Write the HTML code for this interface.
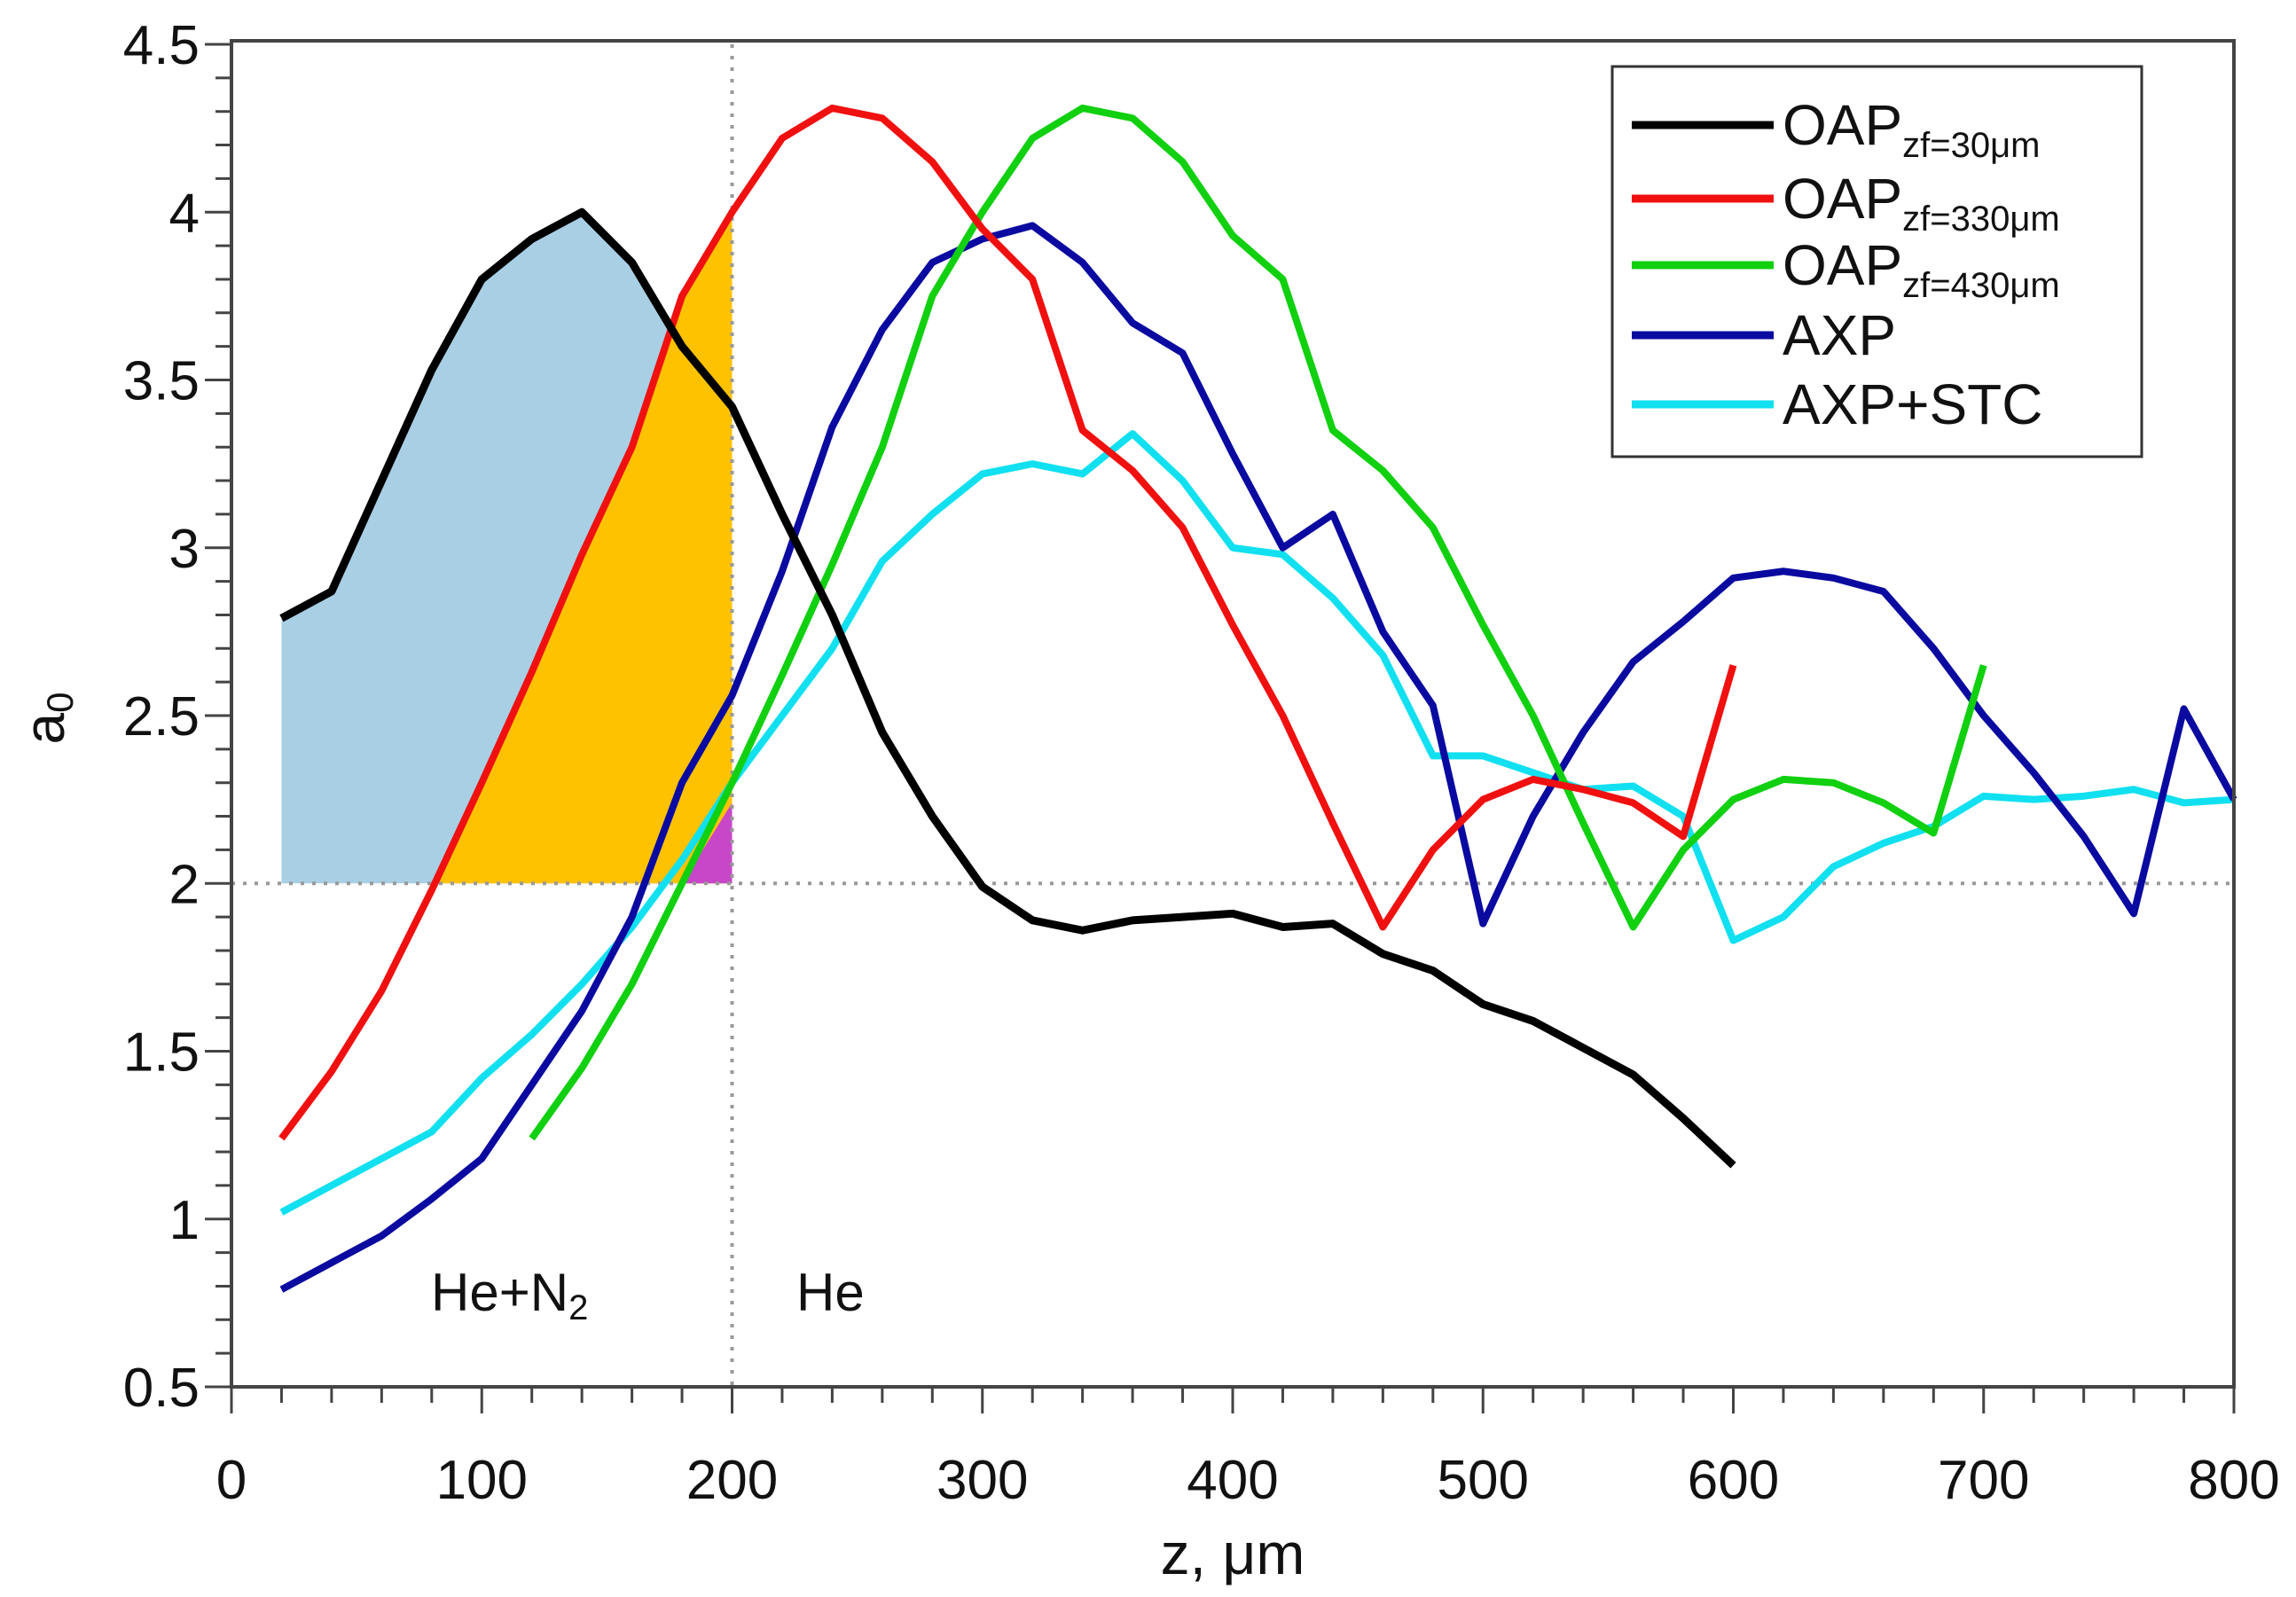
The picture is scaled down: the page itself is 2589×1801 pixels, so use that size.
<!DOCTYPE html>
<html><head><meta charset="utf-8"><style>
html,body{margin:0;padding:0;background:#fff}
svg{display:block;font-family:"Liberation Sans",Arial,sans-serif}
</style></head><body>
<svg id="chart" width="2589" height="1801" viewBox="0 0 2589 1801" xmlns="http://www.w3.org/2000/svg">
<g id="fills"></g>
<g id="guides"></g>
<g id="series"></g>
<g id="axes"></g>
<g id="legend"></g>
</svg>
<script>
const zOAP30=[20,40,60,80,100,120,140,160,180,200,220,240,260,280,300,320,340,360,380,400,420,440,460,480,500,520,540,560,580,600];
const aOAP30=[2.79,2.87,3.2,3.53,3.8,3.92,4.0,3.85,3.6,3.42,3.1,2.8,2.45,2.2,1.99,1.89,1.86,1.89,1.9,1.91,1.87,1.88,1.79,1.74,1.64,1.59,1.51,1.43,1.3,1.16];
const zOAP330=[20,40,60,80,100,120,140,160,180,200,220,240,260,280,300,320,340,360,380,400,420,440,460,480,500,520,540,560,580,600];
const aOAP330=[1.24,1.44,1.68,1.98,2.3,2.63,2.98,3.3,3.75,4.0,4.22,4.31,4.28,4.15,3.95,3.8,3.35,3.23,3.06,2.77,2.5,2.18,1.87,2.1,2.25,2.31,2.28,2.24,2.14,2.65];
const zOAP430=[120,140,160,180,200,220,240,260,280,300,320,340,360,380,400,420,440,460,480,500,520,540,560,580,600,620,640,660,680,700];
const aOAP430=[1.24,1.45,1.7,2.0,2.3,2.62,2.95,3.3,3.75,4.0,4.22,4.31,4.28,4.15,3.93,3.8,3.35,3.23,3.06,2.77,2.5,2.18,1.87,2.1,2.25,2.31,2.3,2.24,2.15,2.65];
const zAXP=[20,40,60,80,100,120,140,160,180,200,220,240,260,280,300,320,340,360,380,400,420,440,460,480,500,520,540,560,580,600,620,640,660,680,700,720,740,760,780,800];
const aAXP=[0.79,0.87,0.95,1.06,1.18,1.4,1.62,1.9,2.3,2.56,2.93,3.36,3.65,3.85,3.92,3.96,3.85,3.67,3.58,3.28,3.0,3.1,2.75,2.53,1.88,2.2,2.45,2.66,2.78,2.91,2.93,2.91,2.87,2.7,2.5,2.33,2.14,1.91,2.52,2.25];
const zSTC=[20,40,60,80,100,120,140,160,180,200,220,240,260,280,300,320,340,360,380,400,420,440,460,480,500,520,540,560,580,600,620,640,660,680,700,720,740,760,780,800];
const aSTC=[1.02,1.1,1.18,1.26,1.42,1.55,1.7,1.87,2.07,2.3,2.5,2.7,2.96,3.1,3.22,3.25,3.22,3.34,3.2,3.0,2.98,2.85,2.68,2.38,2.38,2.33,2.28,2.29,2.2,1.83,1.9,2.05,2.12,2.17,2.26,2.25,2.26,2.28,2.24,2.25];
const xTicks=[0,100,200,300,400,500,600,700,800];
const yTicks=[0.5,1,1.5,2,2.5,3,3.5,4,4.5];
const yTickLabels=["0.5","1","1.5","2","2.5","3","3.5","4","4.5"];

const NS="http://www.w3.org/2000/svg";
const X0=261,X1=2519,Y0=1564,Y1=50;
const sx=z=>X0+(z-0)/(800-0)*(X1-X0);
const sy=a=>Y0-(a-0.5)/(4.5-0.5)*(Y0-Y1);
function mk(tag,attrs,parent){const e=document.createElementNS(NS,tag);for(const k in attrs)e.setAttribute(k,attrs[k]);parent.appendChild(e);return e;}
const fills=document.getElementById('fills'),guides=document.getElementById('guides'),series=document.getElementById('series'),axes=document.getElementById('axes'),legend=document.getElementById('legend');

function areaPts(zs,as,zmin,zmax){let p=[];for(let i=0;i<zs.length;i++){if(zs[i]>=zmin&&zs[i]<=zmax)p.push(sx(zs[i])+','+sy(Math.max(as[i],2)));}
  const first=zs.find(z=>z>=zmin),lastArr=zs.filter(z=>z<=zmax),last=lastArr[lastArr.length-1];
  p.push(sx(last)+','+sy(2));p.push(sx(first)+','+sy(2));return p.join(' ');}
let el=mk('polygon',{points:areaPts(zOAP30,aOAP30,20,200),fill:'#a9cfe5'},fills);


el=mk('polygon',{points:areaPts(zOAP330,aOAP330,80,200),fill:'#ffc200'},fills);


el=mk('polygon',{points:[sx(180)+','+sy(2),sx(200)+','+sy(2.24),sx(200)+','+sy(2)].join(' '),fill:'#c846c8'},fills);



el=mk('line',{x1:X0,x2:X1,y1:sy(2),y2:sy(2),stroke:'#999',"stroke-width":4,"stroke-dasharray":"4 9"},guides);


el=mk('line',{x1:sx(200),x2:sx(200),y1:Y1,y2:Y0,stroke:'#999',"stroke-width":4,"stroke-dasharray":"4 9"},guides);



const S=[[zOAP30,aOAP30,'#000','oap-30-line'],[zOAP330,aOAP330,'#f01010','oap-330-line'],[zOAP430,aOAP430,'#10d010','oap-430-line'],[zAXP,aAXP,'#0a0aa0','axp-line'],[zSTC,aSTC,'#10e0f0','axp-stc-line']];
const order=[4,3,2,1,0];
order.forEach(i=>{const s=S[i];const pts=s[0].map((z,j)=>sx(z)+','+sy(s[1][j])).join(' ');
  const e=mk('polyline',{points:pts,fill:'none',stroke:s[2],"stroke-width":i==0?9:8,"stroke-linejoin":"round"},series);
  
  });

el=mk('rect',{x:X0,y:Y1-4,width:X1-X0,height:Y0-Y1+4,fill:'none',stroke:'#444',"stroke-width":4},axes);


for(let v=0;v<=800;v+=20){const big=v%100==0;mk('line',{x1:sx(v),x2:sx(v),y1:Y0,y2:Y0+(big?30:18),stroke:'#444',"stroke-width":3},axes);}
for(let v=0.5;v<=4.501;v+=0.1){const big=Math.abs(v*2-Math.round(v*2))<1e-6;mk('line',{x1:X0,x2:X0-(big?30:18),y1:sy(v),y2:sy(v),stroke:'#444',"stroke-width":3},axes);}
xTicks.forEach(v=>{const t=mk('text',{x:sx(v),y:1690,"font-size":62,"text-anchor":"middle",fill:'#111'},axes);t.textContent=String(v);
  
  });
yTicks.forEach((v,i)=>{const t=mk('text',{x:225,y:sy(v)+22,"font-size":62,"text-anchor":"end",fill:'#111'},axes);t.textContent=yTickLabels[i];
  
  });
el=mk('text',{x:1390,y:1775,"font-size":66,"text-anchor":"middle",fill:'#111'},axes);el.textContent='z, μm';


el=mk('g',{transform:'translate(72,810) rotate(-90)'},axes);


let t=mk('text',{x:0,y:0,"font-size":64,"text-anchor":"middle",fill:'#111'},el);
t.innerHTML='a<tspan font-size="42" dy="10">0</tspan>';
el=mk('text',{x:486,y:1478,"font-size":60,fill:'#111'},axes);el.innerHTML='He+N<tspan font-size="40" dy="10">2</tspan>';


el=mk('text',{x:898,y:1478,"font-size":60,fill:'#111'},axes);el.textContent='He';



el=mk('rect',{x:1818,y:75,width:597,height:440,fill:'#fff',stroke:'#333',"stroke-width":3},legend);


const L=[['OAP','zf=30μm'],['OAP','zf=330μm'],['OAP','zf=430μm'],['AXP',''],['AXP+STC','']];
const LY=[141,224,299,378,456];
L.forEach((l,i)=>{const g=mk('g',{},legend);
  
  
  mk('line',{x1:1840,x2:2000,y1:LY[i],y2:LY[i],stroke:S[i][2],"stroke-width":9},g);
  const tx=mk('text',{x:2010,y:LY[i]+22,"font-size":64,fill:'#111'},g);
  tx.innerHTML=l[0]+(l[1]?'<tspan font-size="40" dy="14">'+l[1]+'</tspan>':'');});
</script>
</body></html>
